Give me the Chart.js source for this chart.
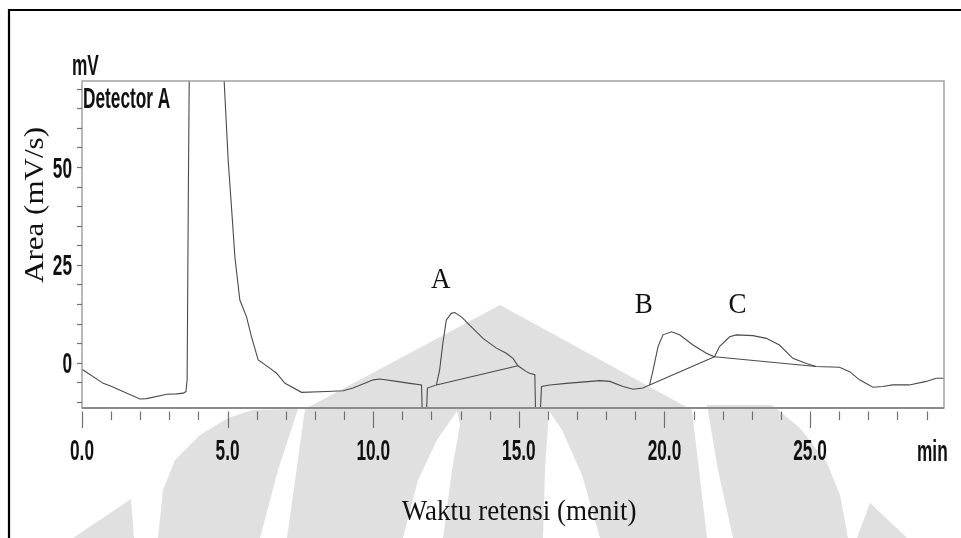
<!DOCTYPE html>
<html>
<head>
<meta charset="utf-8">
<script src="https://cdn.jsdelivr.net/npm/chart.js@4.4.0/dist/chart.umd.min.js"></script>
<style>
  html, body { margin: 0; padding: 0; background: #ffffff; }
  #wrap { width: 961px; height: 538px; position: relative; }
  canvas { display: block; }
</style>
</head>
<body>
<div id="wrap"><canvas id="chrom" width="961" height="538"></canvas></div>
<script>
// Detector A trace: retention time (min) and signal (mV)
const traceTime = [
  0.00, 0.73, 0.96, 1.99, 2.22, 2.91, 3.25, 3.48, 3.57, 3.61, 3.65, 3.70, 4.30, 4.84,
  5.02, 5.14, 5.25, 5.42, 5.65, 5.82, 6.05, 6.45, 6.68, 6.97, 7.54, 8.40, 8.97, 9.31,
  10.00, 10.23, 10.80, 11.26, 11.66, 11.69, 11.82, 11.86, 12.17, 12.28, 12.39, 12.51,
  12.68, 12.80, 13.03, 13.31, 13.77, 14.23, 14.57, 14.80, 14.97, 15.26, 15.37, 15.55,
  15.58, 15.72, 15.78, 16.06, 16.63, 17.78, 18.12, 18.58, 18.92, 19.26, 19.49, 19.61,
  19.78, 19.95, 20.24, 20.52, 20.98, 21.44, 21.72, 21.89, 22.24, 22.47, 23.04, 23.50,
  23.95, 24.41, 24.87, 25.21, 26.01, 26.36, 26.70, 27.16, 27.50, 27.84, 28.41, 28.99,
  29.33, 29.60
];
const traceSignal = [
  -1.7, -5.3, -5.9, -9.3, -9.2, -8.1, -8.0, -7.8, -7.4, -4.4, 41.5, 90, 160, 78,
  51.7, 39.0, 27.0, 16.0, 11.7, 6.6, 0.7, -1.4, -2.7, -5.3, -7.6, -7.4, -7.2, -6.5,
  -4.4, -4.2, -4.8, -5.3, -5.7, -15, -15, -6.5, -5.7, -1.9, 4.9, 10.9,
  12.6, 12.8, 11.7, 9.6, 6.2, 3.7, 2.4, 1.1, -0.8, -2.3, -2.7, -3.1,
  -15, -15, -6.1, -5.7, -5.3, -4.6, -4.8, -6.1, -6.8, -6.5, -5.7, -1.9,
  4.1, 7.1, 7.9, 7.1, 4.5, 2.4, 1.5, 4.1, 6.6, 7.1, 6.9, 6.2,
  4.5, 1.1, -0.2, -1.0, -1.2, -2.3, -4.4, -6.3, -6.1, -5.7, -5.7, -4.8,
  -4.0, -4.0
];

// Integration baselines under peaks A, B and C
const baseATime = [12.17, 14.97];
const baseASignal = [-5.7, -0.8];
const baseBTime = [19.49, 21.72];
const baseBSignal = [-5.7, 1.5];
const baseCTime = [21.72, 25.21];
const baseCSignal = [1.5, -1.0];

// Peak names and where they are written (time, signal at text baseline)
const peakNames = ['A', 'B', 'C'];
const peakLabelTime = [12.32, 19.29, 22.51];
const peakLabelSignal = [19.1, 12.7, 12.7];

// Axis ticks
const xMajorTicks = [0, 5, 10, 15, 20, 25];
const xTickLabels = ['0.0', '5.0', '10.0', '15.0', '20.0', '25.0'];
const yLabelTicks = [0, 25, 50];
const yTickLabels = ['0', '25', '50'];

const toPoints = (ts, vs) => ts.map((t, i) => ({ x: t, y: vs[i] }));

// Faint emblem shapes sitting behind the plot (canvas pixels)
const emblemFill = '#e0e0e0';
const emblemGray = [
  [[500,305],[692,410],[707,538],[287,538],[305,409]],
  [[158,538],[163,490],[175,460],[200,435],[228,418],[252,410],[298,409],[278,470],[260,538]],
  [[73,538],[131,499],[134,538]],
  [[707,405],[772,405],[800,428],[827,463],[840,495],[848,538],[733,538],[718,470]],
  [[857,538],[870,503],[907,538]]
];
const emblemGaps = [
  [[403,538],[418,480],[437,440],[457,411],[460,424],[452,470],[443,538]],
  [[543,538],[545,470],[549,411],[562,430],[582,475],[600,538]]
];

const emblemPlugin = {
  id: 'emblem',
  beforeDraw(chart) {
    const ctx = chart.ctx;
    ctx.save();
    ctx.fillStyle = '#ffffff';
    ctx.fillRect(0, 0, chart.width, chart.height);
    const poly = (pts, color) => {
      ctx.beginPath();
      pts.forEach((p, i) => (i ? ctx.lineTo(p[0], p[1]) : ctx.moveTo(p[0], p[1])));
      ctx.closePath();
      ctx.fillStyle = color;
      ctx.fill();
    };
    emblemGray.forEach(p => poly(p, emblemFill));
    emblemGaps.forEach(p => poly(p, '#ffffff'));
    ctx.restore();
  }
};

const SANS = '"Liberation Sans Narrow", "Liberation Sans", Arial, sans-serif';
const SERIF = '"Liberation Serif", "Times New Roman", serif';

function drawStretched(ctx, str, x, y, font, sx, sy, align) {
  ctx.save();
  ctx.font = font;
  ctx.textAlign = align;
  ctx.textBaseline = 'alphabetic';
  ctx.translate(x, y);
  ctx.scale(sx, sy);
  ctx.fillText(str, 0, 0);
  ctx.restore();
}

const framePlugin = {
  id: 'chromFrame',
  afterDraw(chart) {
    const ctx = chart.ctx;
    const area = chart.chartArea;
    const xs = chart.scales.x;
    const ys = chart.scales.y;
    ctx.save();

    // page frame
    ctx.strokeStyle = '#000000';
    ctx.lineWidth = 2.2;
    ctx.beginPath();
    ctx.moveTo(9, chart.height);
    ctx.lineTo(9, 10);
    ctx.lineTo(chart.width, 10);
    ctx.stroke();

    // plot border
    ctx.strokeStyle = '#9c9c9c';
    ctx.lineWidth = 1.4;
    ctx.strokeRect(area.left, area.top, area.right - area.left, area.bottom - area.top);
    ctx.strokeStyle = '#8a8a8a';
    ctx.lineWidth = 2;
    ctx.beginPath();
    ctx.moveTo(area.left, area.bottom);
    ctx.lineTo(area.right, area.bottom);
    ctx.stroke();

    // tick marks
    ctx.strokeStyle = '#707070';
    ctx.lineWidth = 1.2;
    for (let t = 0; t <= 29; t++) {
      const px = Math.round(xs.getPixelForValue(t)) + 0.5;
      const major = xMajorTicks.includes(t);
      ctx.beginPath();
      ctx.moveTo(px, area.bottom + 3.5);
      ctx.lineTo(px, area.bottom + (major ? 20 : 12));
      ctx.stroke();
    }
    for (let v = -10; v <= 70; v += 5) {
      const py = Math.round(ys.getPixelForValue(v)) + 0.5;
      ctx.beginPath();
      ctx.moveTo(area.left - 5, py);
      ctx.lineTo(area.left, py);
      ctx.stroke();
    }

    // condensed instrument lettering
    ctx.fillStyle = '#111111';
    const sansFont = 'bold 20px ' + SANS;
    ctx.font = sansFont;
    const sx = 24 / ctx.measureText('0.0').width;
    const sy = 1.5;
    xMajorTicks.forEach((t, i) => {
      drawStretched(ctx, xTickLabels[i], xs.getPixelForValue(t), area.bottom + 52, sansFont, sx, sy, 'center');
    });
    yLabelTicks.forEach((v, i) => {
      drawStretched(ctx, yTickLabels[i], area.left - 10, ys.getPixelForValue(v) + 10.5, sansFont, sx, sy, 'right');
    });
    drawStretched(ctx, 'mV', 72, 75, sansFont, sx, sy, 'left');
    drawStretched(ctx, 'min', 917, area.bottom + 53, sansFont, sx, sy, 'left');
    drawStretched(ctx, 'Detector A', area.left + 1, area.top + 27, sansFont, sx, sy, 'left');

    // axis titles
    ctx.fillStyle = '#111111';
    const serifFont = '27px ' + SERIF;
    drawStretched(ctx, 'Waktu retensi (menit)', 519, 520, serifFont, 1, 1.12, 'center');
    ctx.save();
    ctx.translate(43, 205);
    ctx.rotate(-Math.PI / 2);
    ctx.scale(1.15, 1);
    ctx.font = serifFont;
    ctx.textAlign = 'center';
    ctx.textBaseline = 'alphabetic';
    ctx.fillText('Area (mV/s)', 0, 0);
    ctx.restore();

    // peak names
    peakNames.forEach((name, i) => {
      drawStretched(ctx, name, xs.getPixelForValue(peakLabelTime[i]),
        ys.getPixelForValue(peakLabelSignal[i]), serifFont, 1, 1.1, 'center');
    });

    ctx.restore();
  }
};

const lineStyle = {
  borderColor: '#4a4a4a',
  borderWidth: 1.1,
  pointRadius: 0,
  tension: 0,
  fill: false
};

new Chart(document.getElementById('chrom'), {
  type: 'line',
  data: {
    datasets: [
      Object.assign({ label: 'Detector A', data: toPoints(traceTime, traceSignal) }, lineStyle),
      Object.assign({ label: 'Baseline A', data: toPoints(baseATime, baseASignal) }, lineStyle),
      Object.assign({ label: 'Baseline B', data: toPoints(baseBTime, baseBSignal) }, lineStyle),
      Object.assign({ label: 'Baseline C', data: toPoints(baseCTime, baseCSignal) }, lineStyle)
    ]
  },
  options: {
    responsive: false,
    animation: false,
    devicePixelRatio: 1,
    layout: { padding: { left: 82, right: 17, top: 81, bottom: 130 } },
    plugins: { legend: { display: false }, tooltip: { enabled: false } },
    scales: {
      x: { type: 'linear', min: 0, max: 29.6, display: false },
      y: { type: 'linear', min: -11.6, max: 72, display: false }
    }
  },
  plugins: [emblemPlugin, framePlugin]
});
</script>
</body>
</html>
